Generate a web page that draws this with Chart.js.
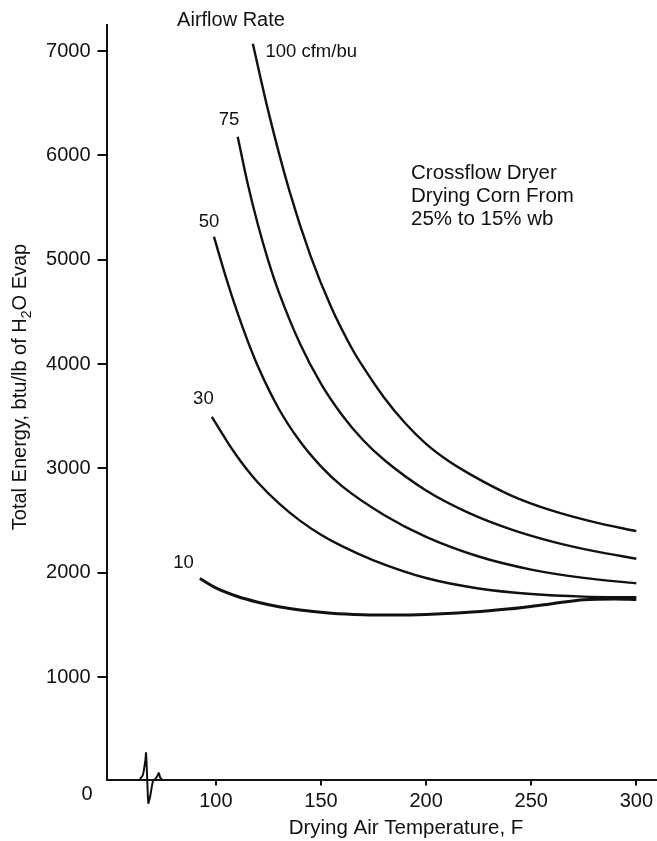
<!DOCTYPE html>
<html>
<head>
<meta charset="utf-8">
<script src="https://cdn.jsdelivr.net/npm/chart.js@4.4.0/dist/chart.umd.min.js"></script>
<style>
  html, body { margin: 0; padding: 0; background: #fff; }
  canvas { display: block; }
</style>
</head>
<body>
<canvas id="chart" width="657" height="841"></canvas>
<script>
// values (temperature F, energy btu/lb)
const temp100 = [117.6, 125, 135, 145, 155, 165, 170, 180, 190, 200, 210, 220, 240, 260, 280, 300];
const energy100 = [7070, 6420, 5660, 5040, 4540, 4140, 3975, 3680, 3435, 3235, 3080, 2955, 2745, 2595, 2485, 2400];

const temp75 = [110.4, 115, 120, 125, 130, 140, 150, 160, 170, 180, 200, 220, 240, 260, 280, 300];
const energy75 = [6180, 5743, 5338, 4988, 4688, 4198, 3813, 3513, 3273, 3083, 2789, 2577, 2419, 2299, 2207, 2135];

const temp50 = [99.1, 105, 110, 115, 120, 130, 140, 150, 160, 180, 200, 225, 250, 275, 300];
const energy50 = [5221, 4820, 4510, 4230, 3980, 3570, 3260, 3020, 2830, 2554, 2344, 2156, 2031, 1951, 1899];

const temp30 = [98.1, 105, 110, 115, 120, 130, 140, 150, 160, 175, 200, 225, 250, 275, 300];
const energy30 = [3495, 3270, 3120, 2985, 2865, 2665, 2500, 2365, 2255, 2120, 1950, 1850, 1797, 1772, 1765];

const temp10 = [92.4, 100, 110, 120, 130, 140, 155, 170, 185, 200, 215, 230, 245, 260, 275, 290, 300];
const energy10 = [1945, 1855, 1775, 1718, 1675, 1643, 1612, 1598, 1595, 1600, 1614, 1636, 1664, 1704, 1742, 1750, 1745];

// the little axis-break squiggle on the baseline
const breakTemp = [63.9, 65.3, 66.5, 66.8, 67.2, 67.9, 68.7, 70.1, 71.0, 72.2, 72.9, 73.6, 74.4];
const breakEnergy = [24, 62, 206, 273, 110, -206, -149, 5, 19, 53, 81, 34, 19];

const xTicks = [100, 150, 200, 250, 300];
const yTicks = [1000, 2000, 3000, 4000, 5000, 6000, 7000];

const labelText = ['100 cfm/bu', '75', '50', '30', '10'];
const labelTemp = [123.6, 101.4, 91.9, 89.2, 79.7];
const labelEnergy = [6993, 6345, 5364, 3665, 2091];

const noteLines = ['Crossflow Dryer', 'Drying Corn From', '25% to 15% wb'];

const FONT = '"Liberation Sans", Arial, Helvetica, sans-serif';
const INK = '#111';

const toPoints = (xs, ys) => xs.map((t, i) => ({ x: t, y: ys[i] }));

const curve = (label, xs, ys, width) => ({
  label,
  data: toPoints(xs, ys),
  borderColor: INK,
  borderWidth: width,
  pointRadius: 0,
  fill: false,
  cubicInterpolationMode: 'monotone',
});

const figureText = {
  id: 'figureText',
  afterDraw(chart) {
    const { ctx, scales: { x, y }, chartArea } = chart;
    ctx.save();
    ctx.fillStyle = INK;
    ctx.textBaseline = 'middle';

    // curve labels
    ctx.font = `18.5px ${FONT}`;
    ctx.textAlign = 'left';
    labelText.forEach((txt, i) => {
      ctx.fillText(txt, x.getPixelForValue(labelTemp[i]), y.getPixelForValue(labelEnergy[i]));
    });

    ctx.font = `20px ${FONT}`;
    ctx.textAlign = 'center';
    ctx.fillText('Airflow Rate', 231, 20);

    ctx.font = `20.5px ${FONT}`;
    ctx.textAlign = 'left';
    noteLines.forEach((txt, i) => ctx.fillText(txt, 411, 173 + i * 23));

    // zero label sits a little below the baseline
    ctx.font = `20px ${FONT}`;
    ctx.textAlign = 'right';
    ctx.fillText('0', chartArea.left - 14, chartArea.bottom + 15);

    // x title
    ctx.font = `20.5px ${FONT}`;
    ctx.textAlign = 'center';
    ctx.fillText('Drying Air Temperature, F', 406, 828);

    // y title with subscript
    ctx.translate(20, 387);
    ctx.rotate(-Math.PI / 2);
    ctx.textAlign = 'left';
    const partA = 'Total Energy, btu/lb of H';
    const partB = 'O Evap';
    ctx.font = `20px ${FONT}`;
    const wA = ctx.measureText(partA).width;
    const wB = ctx.measureText(partB).width;
    ctx.font = `14px ${FONT}`;
    const wS = ctx.measureText('2').width;
    let pos = -(wA + wS + wB) / 2;
    ctx.font = `20px ${FONT}`;
    ctx.fillText(partA, pos, 0);
    pos += wA;
    ctx.font = `14px ${FONT}`;
    ctx.fillText('2', pos, 7);
    pos += wS;
    ctx.font = `20px ${FONT}`;
    ctx.fillText(partB, pos, 0);
    ctx.restore();
  }
};

new Chart(document.getElementById('chart'), {
  type: 'line',
  data: {
    datasets: [
      curve('100', temp100, energy100, 2.4),
      curve('75', temp75, energy75, 2.4),
      curve('50', temp50, energy50, 2.4),
      curve('30', temp30, energy30, 2.4),
      curve('10', temp10, energy10, 3),
      {
        label: 'break',
        data: toPoints(breakTemp, breakEnergy),
        borderColor: INK,
        borderWidth: 2,
        pointRadius: 0,
        tension: 0.2,
        clip: false,
      },
    ],
  },
  options: {
    responsive: false,
    animation: false,
    devicePixelRatio: 1,
    layout: { padding: { top: 25, right: 0, left: 0, bottom: 0 } },
    plugins: {
      legend: { display: false },
      tooltip: { enabled: false },
    },
    scales: {
      x: {
        type: 'linear',
        min: 48,
        max: 309.4,
        afterBuildTicks: (s) => { s.ticks = xTicks.map((v) => ({ value: v })); },
        afterFit: (s) => { s.height = 61.5; },
        ticks: {
          autoSkip: false,
          maxRotation: 0,
          padding: 4,
          color: INK,
          font: { family: FONT, size: 20 },
          callback: (v) => String(v),
        },
        grid: { drawOnChartArea: false, tickLength: 6, lineWidth: 2, color: INK },
        border: { display: true, color: INK, width: 2 },
      },
      y: {
        min: 19,
        max: 7250,
        afterBuildTicks: (s) => { s.ticks = yTicks.map((v) => ({ value: v })); },
        afterFit: (s) => { s.width = 106.5; },
        ticks: {
          padding: 7,
          color: INK,
          font: { family: FONT, size: 20 },
          callback: (v) => String(v),
        },
        grid: { drawOnChartArea: false, tickLength: 9, lineWidth: 2, color: INK },
        border: { display: true, color: INK, width: 2 },
      },
    },
  },
  plugins: [figureText],
});
</script>
</body>
</html>
